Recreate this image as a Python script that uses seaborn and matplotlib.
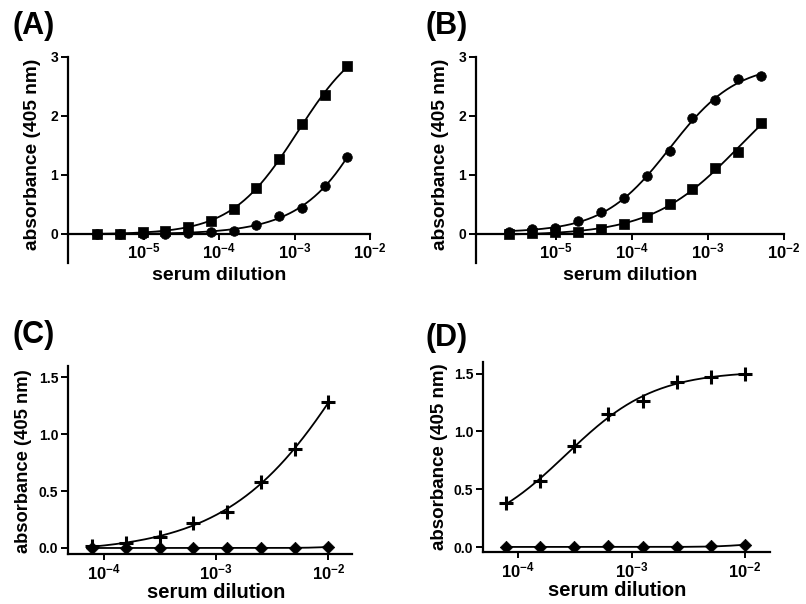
import numpy as np
import pandas as pd
import matplotlib
matplotlib.use("Agg")
import matplotlib.pyplot as plt
from matplotlib.ticker import NullLocator
import seaborn as sns

# ---------------- data ----------------
dil_top = [2.44e-6, 4.88e-6, 9.77e-6, 1.95e-5, 3.91e-5, 7.81e-5,
           1.56e-4, 3.13e-4, 6.25e-4, 1.25e-3, 2.5e-3, 5e-3]
A_square = [0.00, 0.00, 0.02, 0.05, 0.11, 0.21, 0.42, 0.78, 1.26, 1.86, 2.36, 2.84]
A_circle = [0.00, 0.00, 0.00, 0.00, 0.01, 0.03, 0.05, 0.15, 0.30, 0.44, 0.80, 1.30]
B_circle = [0.02, 0.07, 0.10, 0.21, 0.36, 0.60, 0.97, 1.40, 1.96, 2.27, 2.62, 2.68]
B_square = [0.00, 0.01, 0.02, 0.03, 0.07, 0.16, 0.28, 0.50, 0.76, 1.12, 1.38, 1.88]

dil_bot = [7.81e-5, 1.56e-4, 3.13e-4, 6.25e-4, 1.25e-3, 2.5e-3, 5e-3, 1e-2]
C_plus = [0.015, 0.04, 0.10, 0.22, 0.32, 0.58, 0.87, 1.28]
C_diam = [0.00, 0.00, 0.00, 0.00, 0.00, 0.00, 0.00, 0.01]
D_plus = [0.38, 0.575, 0.87, 1.15, 1.26, 1.43, 1.47, 1.50]
D_diam = [0.00, 0.00, 0.00, 0.005, 0.00, 0.00, 0.005, 0.02]

top_xticks = [1e-5, 1e-4, 1e-3, 1e-2]
top_xlabels = [r"$\mathbf{10^{-5}}$", r"$\mathbf{10^{-4}}$", r"$\mathbf{10^{-3}}$", r"$\mathbf{10^{-2}}$"]
bot_xticks = [1e-4, 1e-3, 1e-2]
bot_xlabels = [r"$\mathbf{10^{-4}}$", r"$\mathbf{10^{-3}}$", r"$\mathbf{10^{-2}}$"]
top_yticks = [0, 1, 2, 3]
bot_yticks = [0.0, 0.5, 1.0, 1.5]
panel_letters = ["(A)", "(B)", "(C)", "(D)"]
xlabel_text = "serum dilution"
ylabel_text = "absorbance (405 nm)"

# ---------------- style ----------------
sns.set_theme(style="ticks")
plt.rcParams["font.family"] = ["Liberation Sans", "DejaVu Sans"]
plt.rcParams["font.weight"] = "bold"
plt.rcParams["mathtext.fontset"] = "custom"
plt.rcParams["mathtext.rm"] = "Liberation Sans"
plt.rcParams["mathtext.bf"] = "Liberation Sans:bold"
plt.rcParams["mathtext.it"] = "Liberation Sans:italic"

W, H = 806, 604
fig = plt.figure(figsize=(W / 100, H / 100), dpi=100)
fig.patch.set_facecolor("white")


def px_axes(l, t, r, b):
    return fig.add_axes([l / W, 1 - b / H, (r - l) / W, (b - t) / H])


def fit_4pl(x, y):
    """Least-squares four-parameter logistic fit in log10(x)."""
    lx = np.log10(np.asarray(x, float))
    y = np.asarray(y, float)
    cs = np.linspace(-7, 1, 401)[:, None, None]
    hs = np.linspace(0.3, 3.0, 91)[None, :, None]
    s = 1.0 / (1.0 + 10 ** ((cs - lx[None, None, :]) * hs))
    sm = s.mean(-1, keepdims=True)
    ym = y.mean()
    var = ((s - sm) ** 2).sum(-1, keepdims=True) + 1e-12
    slope = ((s - sm) * (y - ym)).sum(-1, keepdims=True) / var
    inter = ym - slope * sm
    res = ((inter + slope * s - y) ** 2).sum(-1)
    i, j = np.unravel_index(np.argmin(res), res.shape)
    c, h = cs[i, 0, 0], hs[0, j, 0]
    b0, b1 = inter[i, j, 0], slope[i, j, 0]

    def f(xx):
        return b0 + b1 / (1.0 + 10 ** ((c - np.log10(xx)) * h))
    return f


def draw_series(ax, x, y, marker, size, lw_marker=0.0):
    f = fit_4pl(x, y)
    xx = np.logspace(np.log10(x[0]), np.log10(x[-1]), 300)
    sns.lineplot(x=xx, y=f(xx), ax=ax, color="black", linewidth=1.3, legend=False)
    if marker == "+":
        sns.scatterplot(x=x, y=y, ax=ax, marker="+", s=size, color="black",
                        linewidth=lw_marker, legend=False, zorder=3)
    else:
        sns.scatterplot(x=x, y=y, ax=ax, marker=marker, s=size, color="black",
                        edgecolor="black", linewidth=0.5, legend=False, zorder=3)


def style_axes(ax, xticks, xlabels, yticks, ylabels, xtick_fs, ytick_fs, pad_x):
    ax.set_xscale("log")
    ax.set_facecolor("white")
    ax.grid(False)
    ax.spines["top"].set_visible(False)
    ax.spines["right"].set_visible(False)
    for sp in ("left", "bottom"):
        ax.spines[sp].set_linewidth(1.6)
        ax.spines[sp].set_color("black")
    ax.set_xticks(xticks, xlabels)
    ax.set_yticks(yticks, ylabels)
    ax.xaxis.set_minor_locator(NullLocator())
    ax.tick_params(axis="x", length=4, width=1.4, pad=pad_x, labelsize=xtick_fs, colors="black")
    ax.tick_params(axis="y", length=5, width=1.4, pad=2, labelsize=ytick_fs, colors="black")
    for t in ax.get_yticklabels():
        t.set_fontweight("bold")


def labels(ax, xl_pos, yl_pos, fs_x, fs_y):
    ax.set_xlabel(xlabel_text, fontsize=fs_x, fontweight="bold", va="center", color="black")
    ax.xaxis.set_label_coords(xl_pos[0] / W, 1 - xl_pos[1] / H, transform=fig.transFigure)
    ax.set_ylabel(ylabel_text, fontsize=fs_y, fontweight="bold", va="center", color="black")
    ax.yaxis.set_label_coords(yl_pos[0] / W, 1 - yl_pos[1] / H, transform=fig.transFigure)


# ---------------- panel A ----------------
axA = px_axes(68, 57, 370, 263)
draw_series(axA, dil_top, A_circle, "o", 48)
draw_series(axA, dil_top, A_square, "s", 52)
style_axes(axA, top_xticks, top_xlabels, top_yticks, ["0", "1", "2", "3"], 12, 10, 2)
axA.set_xlim(1e-6, 1e-2)
axA.set_ylim(-0.5, 3)
axA.spines["bottom"].set_position(("data", 0))
labels(axA, (219, 276), (33, 154), 14, 13.8)

# ---------------- panel B ----------------
axB = px_axes(476, 57, 784, 263)
draw_series(axB, dil_top, B_square, "s", 52)
draw_series(axB, dil_top, B_circle, "o", 48)
style_axes(axB, top_xticks, top_xlabels, top_yticks, ["0", "1", "2", "3"], 12, 10, 2)
axB.set_xlim(10 ** -6.05, 1e-2)
axB.set_ylim(-0.5, 3)
axB.spines["bottom"].set_position(("data", 0))
labels(axB, (630, 276), (440, 154), 14, 13.8)

# ---------------- panel C ----------------
axC = px_axes(68, 366, 352, 554)
draw_series(axC, dil_bot, C_diam, "D", 40)
draw_series(axC, dil_bot, C_plus, "+", 110, lw_marker=2.2)
style_axes(axC, bot_xticks, bot_xlabels, bot_yticks, ["0.0", "0.5", "1.0", "1.5"], 12, 10, 2)
axC.set_xlim(10 ** -4.32, 10 ** -1.79)
axC.set_ylim(-0.053, 1.6)
labels(axC, (216, 592), (24, 461), 14.5, 13.2)

# ---------------- panel D ----------------
axD = px_axes(483, 362, 770, 552)
draw_series(axD, dil_bot, D_diam, "D", 40)
draw_series(axD, dil_bot, D_plus, "+", 110, lw_marker=2.2)
style_axes(axD, bot_xticks, bot_xlabels, bot_yticks, ["0.0", "0.5", "1.0", "1.5"], 12, 10, 2)
axD.set_xlim(10 ** -4.31, 10 ** -1.78)
axD.set_ylim(-0.043, 1.6)
labels(axD, (617, 591), (439, 457), 14.5, 13.5)

# ---------------- panel letters ----------------
for letter, (x, y) in zip(panel_letters, [(12, 26), (425, 26), (12, 335), (425, 338)]):
    fig.text(x / W, 1 - y / H, letter, fontsize=22, fontweight="bold",
             ha="left", va="center", color="black")

fig.savefig("out.png", dpi=100, facecolor="white")
